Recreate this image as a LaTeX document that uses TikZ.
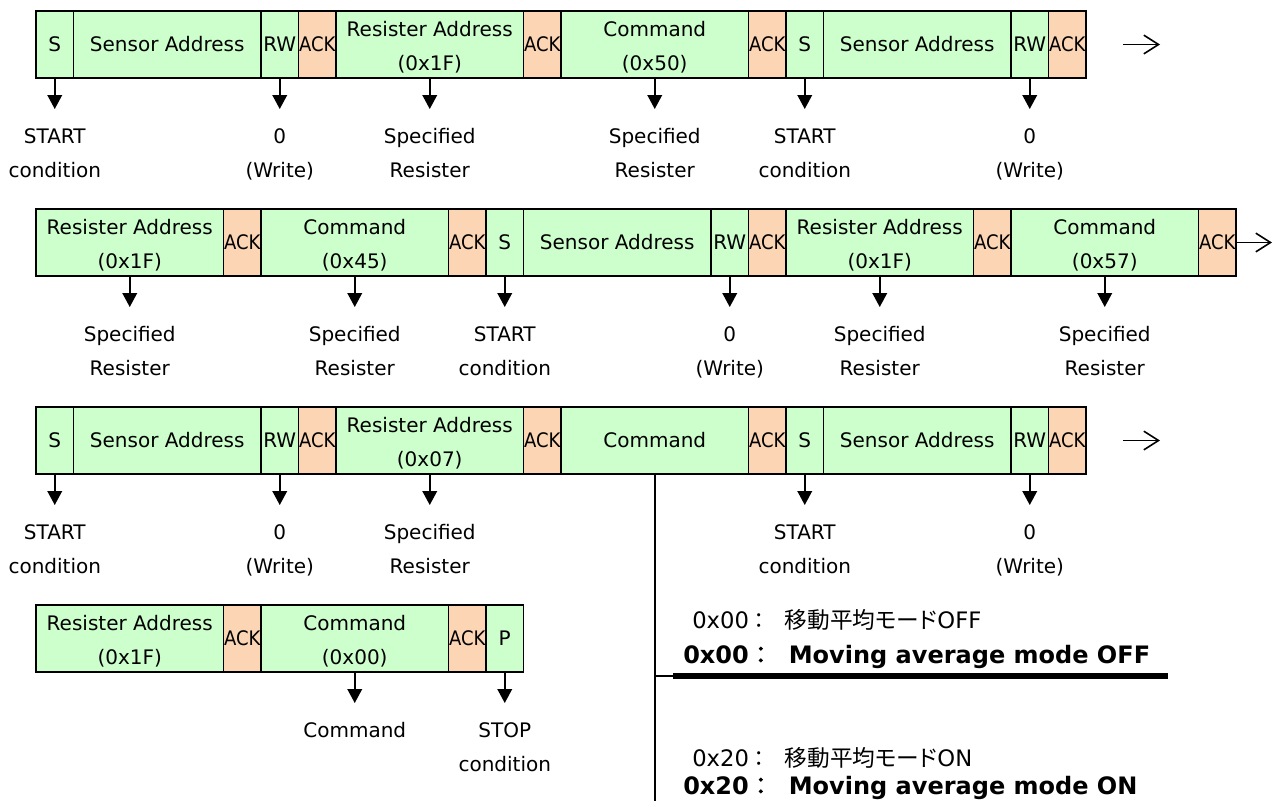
\documentclass[tikz,border=0pt]{standalone}
\usepackage{fontspec}
\setmainfont{DejaVu Sans}
\newfontfamily\jp{Noto Sans CJK JP}
\newfontfamily\jpp[RawFeature=+palt]{Noto Sans CJK JP}
\newfontfamily\jpb[FakeBold=2]{Noto Sans CJK JP}
\usetikzlibrary{arrows.meta}
\definecolor{cgreen}{HTML}{CCFFCC}
\definecolor{corange}{HTML}{FCD5B4}
\newcommand{\tl}[2]{\rule{0pt}{15pt}#1\\#2}
\newcommand{\ack}{\scalebox{0.9}[1]{ACK}}
\begin{document}
\begin{tikzpicture}[x=0.75pt,y=-0.75pt,
 cellg/.style={draw=black, line width=1.4pt, fill=cgreen, minimum height=50.25pt, inner sep=0pt, outer sep=0pt, anchor=north west, align=center, font=\fontsize{15pt}{25.5pt}\selectfont},
 cello/.style={cellg, fill=corange},
 w1/.style={minimum width=28.125pt},
 w5/.style={minimum width=140.625pt},
 lab/.style={font=\fontsize{15pt}{25.5pt}\selectfont, align=center, inner sep=0pt, anchor=north, yshift=-37.5pt},
 arr/.style={line width=1.2pt, -{Triangle[width=11pt,length=10.5pt]}, shorten >=14.25pt},
 cont/.style={line width=1.2pt, -{Straight Barb[length=11pt,width=14pt]}},
 note/.style={anchor=west, inner sep=0pt},
]
\useasboundingbox (0,0) rectangle (1279,801);

% ---------- Row 1 ----------
\node[cellg,w1] (a1) at (36,11) {S};
\node[cellg,w5] (a2) at (73.5,11) {Sensor Address};
\node[cellg,w1] (a3) at (261,11) {RW};
\node[cello,w1] (a4) at (298.5,11) {\ack};
\node[cellg,w5] (a5) at (336,11) {\tl{Resister Address}{(0x1F)}};
\node[cello,w1] (a6) at (523.5,11) {\ack};
\node[cellg,w5] (a7) at (561,11) {\tl{Command}{(0x50)}};
\node[cello,w1] (a8) at (748.5,11) {\ack};
\node[cellg,w1] (a9) at (786,11) {S};
\node[cellg,w5] (a10) at (823.5,11) {Sensor Address};
\node[cellg,w1] (a11) at (1011,11) {RW};
\node[cello,w1] (a12) at (1048.5,11) {\ack};

\node[lab] (la1) at (a1.south) {START\\condition};
\node[lab] (la3) at (a3.south) {0\\(Write)};
\node[lab] (la5) at (a5.south) {Specified\\Resister};
\node[lab] (la7) at (a7.south) {Specified\\Resister};
\node[lab] (la9) at (a9.south) {START\\condition};
\node[lab] (la11) at (a11.south) {0\\(Write)};
\foreach \i in {1,3,5,7,9,11} \draw[arr] (a\i.south) -- (la\i.north);
\coordinate (ra1s) at (1123,44.5);
\coordinate (ra1e) at (1160,44.5);
\draw[cont] (ra1s) -- (ra1e);

% ---------- Row 2 ----------
\node[cellg,w5] (b1) at (36,209) {\tl{Resister Address}{(0x1F)}};
\node[cello,w1] (b2) at (223.5,209) {\ack};
\node[cellg,w5] (b3) at (261,209) {\tl{Command}{(0x45)}};
\node[cello,w1] (b4) at (448.5,209) {\ack};
\node[cellg,w1] (b5) at (486,209) {S};
\node[cellg,w5] (b6) at (523.5,209) {Sensor Address};
\node[cellg,w1] (b7) at (711,209) {RW};
\node[cello,w1] (b8) at (748.5,209) {\ack};
\node[cellg,w5] (b9) at (786,209) {\tl{Resister Address}{(0x1F)}};
\node[cello,w1] (b10) at (973.5,209) {\ack};
\node[cellg,w5] (b11) at (1011,209) {\tl{Command}{(0x57)}};
\node[cello,w1] (b12) at (1198.5,209) {\ack};

\node[lab] (lb1) at (b1.south) {Specified\\Resister};
\node[lab] (lb3) at (b3.south) {Specified\\Resister};
\node[lab] (lb5) at (b5.south) {START\\condition};
\node[lab] (lb7) at (b7.south) {0\\(Write)};
\node[lab] (lb9) at (b9.south) {Specified\\Resister};
\node[lab] (lb11) at (b11.south) {Specified\\Resister};
\foreach \i in {1,3,5,7,9,11} \draw[arr] (b\i.south) -- (lb\i.north);
\coordinate (ra2e) at (1272,242.5);
\draw[cont] (b12.east) -- (ra2e);

% ---------- Row 3 ----------
\node[cellg,w1] (c1) at (36,407) {S};
\node[cellg,w5] (c2) at (73.5,407) {Sensor Address};
\node[cellg,w1] (c3) at (261,407) {RW};
\node[cello,w1] (c4) at (298.5,407) {\ack};
\node[cellg,w5] (c5) at (336,407) {\tl{Resister Address}{(0x07)}};
\node[cello,w1] (c6) at (523.5,407) {\ack};
\node[cellg,w5] (c7) at (561,407) {Command};
\node[cello,w1] (c8) at (748.5,407) {\ack};
\node[cellg,w1] (c9) at (786,407) {S};
\node[cellg,w5] (c10) at (823.5,407) {Sensor Address};
\node[cellg,w1] (c11) at (1011,407) {RW};
\node[cello,w1] (c12) at (1048.5,407) {\ack};

\node[lab] (lc1) at (c1.south) {START\\condition};
\node[lab] (lc3) at (c3.south) {0\\(Write)};
\node[lab] (lc5) at (c5.south) {Specified\\Resister};
\node[lab] (lc9) at (c9.south) {START\\condition};
\node[lab] (lc11) at (c11.south) {0\\(Write)};
\foreach \i in {1,3,5,9,11} \draw[arr] (c\i.south) -- (lc\i.north);
\coordinate (ra3s) at (1123,440.5);
\coordinate (ra3e) at (1160,440.5);
\draw[cont] (ra3s) -- (ra3e);

% command branch
\coordinate (vend) at (654.75,801);
\coordinate (br) at (654.75,676);
\coordinate (ul1) at (673,676);
\coordinate (ul2) at (1168,676);
\draw[line width=1.5pt] (c7.south) -- (vend);
\draw[line width=1.1pt] (br) -- (ul1);
\draw[line width=4.5pt] (ul1) -- (ul2);

% ---------- Row 4 ----------
\node[cellg,w5] (d1) at (36,605) {\tl{Resister Address}{(0x1F)}};
\node[cello,w1] (d2) at (223.5,605) {\ack};
\node[cellg,w5] (d3) at (261,605) {\tl{Command}{(0x00)}};
\node[cello,w1] (d4) at (448.5,605) {\ack};
\node[cellg,w1] (d5) at (486,605) {P};

\node[lab] (ld3) at (d3.south) {Command};
\node[lab] (ld5) at (d5.south) {STOP\\condition};
\foreach \i in {3,5} \draw[arr] (d\i.south) -- (ld\i.north);

% ---------- notes ----------
\node[note] (t1) at (692,620) {\fontsize{17pt}{18pt}\selectfont 0x00{\jp\fontsize{16pt}{18pt}\selectfont ：}\hspace{11pt}{\jpp\fontsize{17pt}{18pt}\selectfont 移動平均モード}OFF};
\node[note] (t2) at (683,657) {\fontsize{18pt}{18pt}\selectfont\bfseries 0x00{\mdseries\jpb ：}\hspace{12pt}Moving average mode OFF};
\node[note] (t3) at (692,758) {\fontsize{17pt}{18pt}\selectfont 0x20{\jp\fontsize{16pt}{18pt}\selectfont ：}\hspace{11pt}{\jpp\fontsize{17pt}{18pt}\selectfont 移動平均モード}ON};
\node[note] (t4) at (683,788) {\fontsize{18pt}{18pt}\selectfont\bfseries 0x20{\mdseries\jpb ：}\hspace{12pt}Moving average mode ON};
\end{tikzpicture}
\end{document}
